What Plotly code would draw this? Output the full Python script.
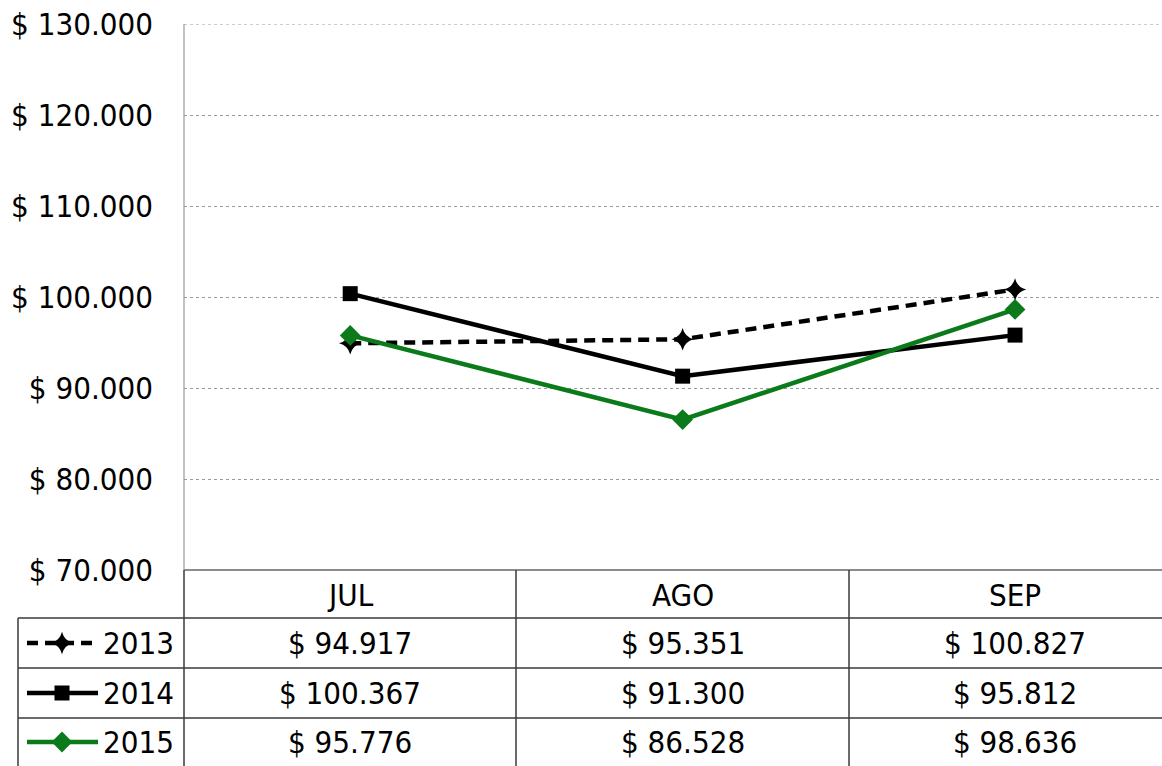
import plotly.graph_objects as go

months = ["JUL", "AGO", "SEP"]
years = ["2013", "2014", "2015"]
v2013 = [94917, 95351, 100827]
v2014 = [100367, 91300, 95812]
v2015 = [95776, 86528, 98636]
y_ticks = [70000, 80000, 90000, 100000, 110000, 120000, 130000]

series = [v2013, v2014, v2015]
colors = ["black", "black", "#0a7a1a"]
dashes = ["11px,7px", "solid", "solid"]
symbols = ["star-diamond", "square", "diamond"]
msizes = [16, 15, 16]

W, H = 1162, 766
FONT = "DejaVu Sans Condensed, Noto Sans, sans-serif"
FS = 31

def fmt(v):
    return "$ " + f"{v:,}".replace(",", ".")

fig = go.Figure()
xs = list(range(len(months)))
for name, vals, c, d, s, ms in zip(years, series, colors, dashes, symbols, msizes):
    fig.add_trace(go.Scatter(x=xs, y=vals, mode="lines+markers", name=name,
                             line=dict(color=c, width=4.5, dash=d),
                             marker=dict(symbol=s, size=ms, color=c),
                             xaxis="x", yaxis="y", cliponaxis=False))

# table geometry (pixels)
left_axis = 184
legend_left = 18
col_edges = [184, 516, 849]
header_top, header_bot = 570, 618
row_edges = [618, 668, 718, 766]
row_centers = [(row_edges[i] + row_edges[i + 1]) / 2 for i in range(3)]

# legend keys in the table
for name, c, d, s, ms, yc in zip(years, colors, dashes, symbols, msizes, row_centers):
    fig.add_trace(go.Scatter(x=[27, 62, 98], y=[yc, yc, yc], mode="lines",
                             line=dict(color=c, width=4.5, dash=d),
                             xaxis="x2", yaxis="y2", showlegend=False, hoverinfo="skip"))
    fig.add_trace(go.Scatter(x=[62], y=[yc], mode="markers",
                             marker=dict(symbol=s, size=ms, color=c),
                             xaxis="x2", yaxis="y2", showlegend=False, hoverinfo="skip"))

shapes = []
lc = "#3a3a3a"
# top gridline
shapes.append(dict(type="line", xref="paper", yref="y", x0=left_axis / W, x1=1,
                   y0=y_ticks[-1], y1=y_ticks[-1], line=dict(color="#9a9a9a", width=1, dash="dot")))
shapes.append(dict(type="line", xref="x2", yref="y2", x0=left_axis, x1=W, y0=header_top, y1=header_top,
                   line=dict(color="#666", width=1.5)))
for ry in row_edges[:-1]:
    shapes.append(dict(type="line", xref="x2", yref="y2", x0=legend_left, x1=W, y0=ry, y1=ry,
                       line=dict(color=lc, width=1.5)))
shapes.append(dict(type="line", xref="x2", yref="y2", x0=legend_left, x1=legend_left, y0=row_edges[0], y1=H,
                   line=dict(color=lc, width=1.5)))
for cx in col_edges:
    shapes.append(dict(type="line", xref="x2", yref="y2", x0=cx, x1=cx, y0=header_top, y1=H,
                       line=dict(color=lc, width=1.5)))
shapes.append(dict(type="line", xref="x2", yref="y2", x0=left_axis, x1=left_axis, y0=24, y1=header_top,
                   line=dict(color="#999", width=1.2)))

annotations = []
hc = (header_top + header_bot) / 2 + 1
for i, m in enumerate(months):
    annotations.append(dict(x=i, y=hc, xref="x", yref="y2", text=m, showarrow=False,
                            font=dict(size=FS, color="black", family=FONT)))
for name, vals, yc in zip(years, series, row_centers):
    annotations.append(dict(x=101, y=yc, xref="x2", yref="y2", text=name, showarrow=False,
                            xanchor="left", font=dict(size=FS, color="black", family=FONT)))
    for i, v in enumerate(vals):
        annotations.append(dict(x=i, y=yc, xref="x", yref="y2", text=fmt(v), showarrow=False,
                                font=dict(size=FS, color="black", family=FONT)))

fig.update_layout(
    width=W, height=H,
    margin=dict(l=0, r=0, t=0, b=0, autoexpand=False),
    paper_bgcolor="white", plot_bgcolor="rgba(0,0,0,0)",
    showlegend=False,
    font=dict(family=FONT, size=FS, color="black"),
    xaxis=dict(domain=[left_axis / W, 1], range=[-0.5, 2 + (W - 1015) / 332.5],
               showgrid=False, zeroline=False, showticklabels=False, showline=False,
               anchor="y", automargin=False),
    yaxis=dict(domain=[(H - header_top) / H, 1 - 24 / H], range=[70000, 130000],
               tickvals=y_ticks, ticktext=[fmt(t) for t in y_ticks],
               showgrid=True, gridcolor="#9a9a9a", griddash="dot", gridwidth=1,
               zeroline=False, showline=False, ticks="", ticklabelstandoff=30,
               tickfont=dict(size=FS, family=FONT, color="black"), anchor="x", automargin=False),
    xaxis2=dict(domain=[0, 1], range=[0, W], visible=False, anchor="y2", automargin=False),
    yaxis2=dict(domain=[0, 1], range=[H, 0], visible=False, anchor="x2", automargin=False),
    shapes=shapes, annotations=annotations,
)

fig.write_html("out.html", config={"displayModeBar": False},
               post_script="document.body.style.margin='0px';")
